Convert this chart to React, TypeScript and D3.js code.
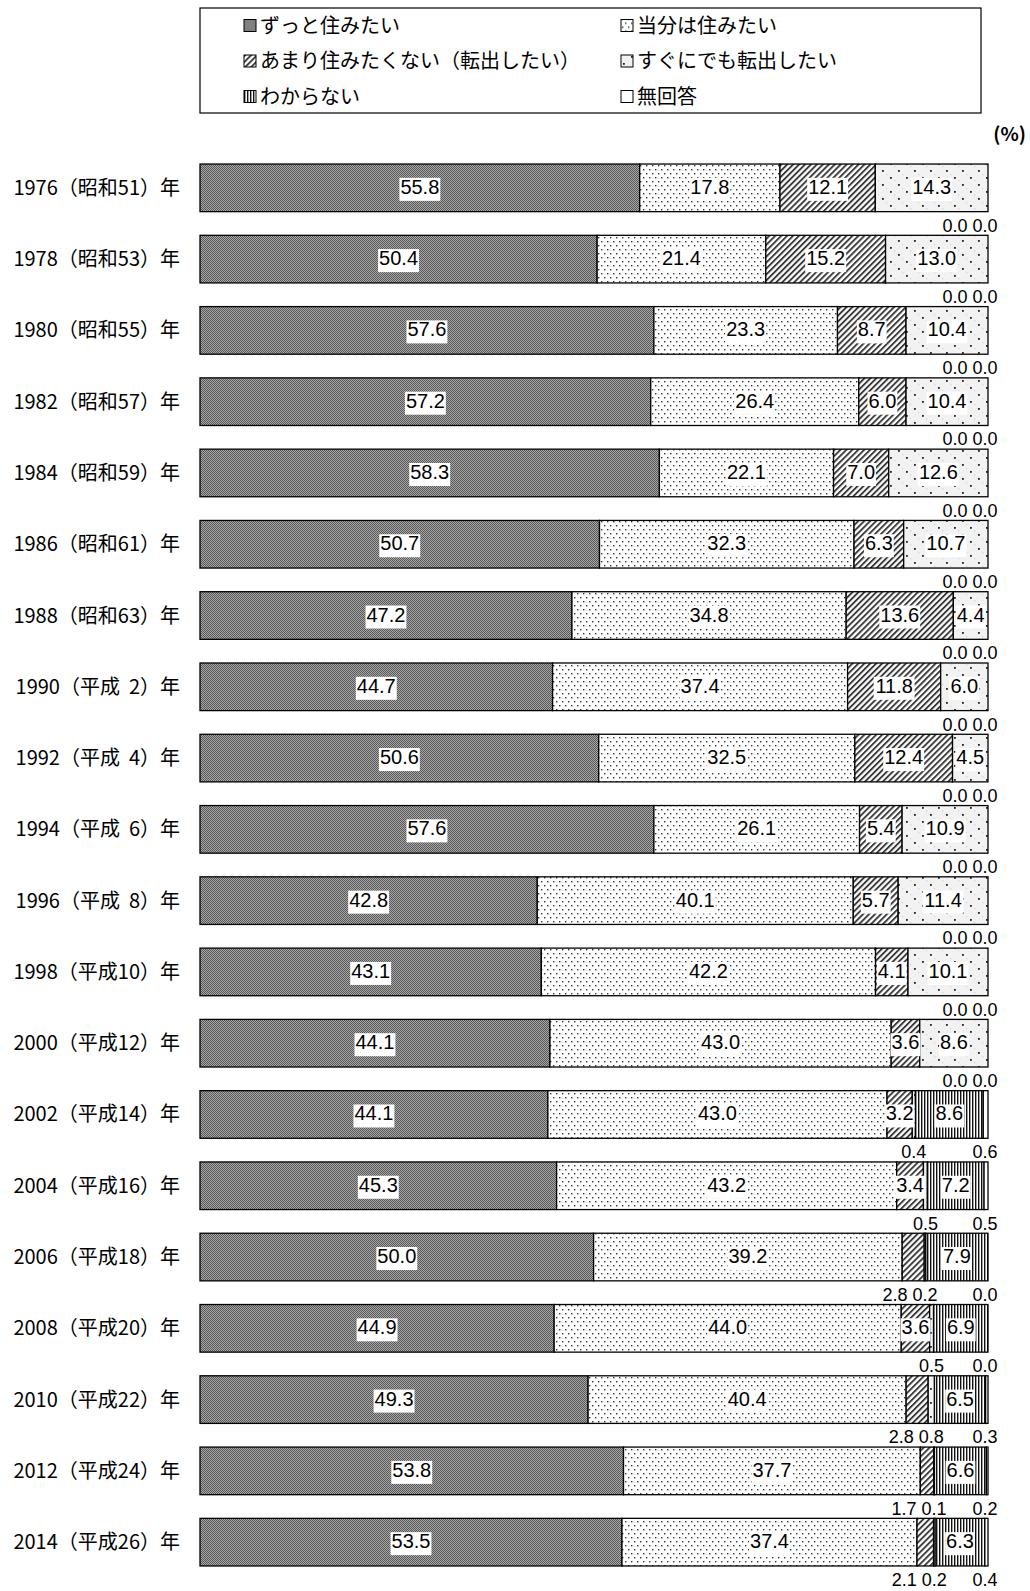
import React from "react";
import * as d3 from "d3";

// survey years (rows)
const years = [
  "1976（昭和51）年", "1978（昭和53）年", "1980（昭和55）年", "1982（昭和57）年",
  "1984（昭和59）年", "1986（昭和61）年", "1988（昭和63）年", "1990（平成  2）年",
  "1992（平成  4）年", "1994（平成  6）年", "1996（平成  8）年", "1998（平成10）年",
  "2000（平成12）年", "2002（平成14）年", "2004（平成16）年", "2006（平成18）年",
  "2008（平成20）年", "2010（平成22）年", "2012（平成24）年", "2014（平成26）年",
];

const seriesNames = [
  "ずっと住みたい", "当分は住みたい", "あまり住みたくない（転出したい）",
  "すぐにでも転出したい", "わからない", "無回答",
];

const zutto = [55.8, 50.4, 57.6, 57.2, 58.3, 50.7, 47.2, 44.7, 50.6, 57.6, 42.8, 43.1, 44.1, 44.1, 45.3, 50.0, 44.9, 49.3, 53.8, 53.5];
const toubun = [17.8, 21.4, 23.3, 26.4, 22.1, 32.3, 34.8, 37.4, 32.5, 26.1, 40.1, 42.2, 43.0, 43.0, 43.2, 39.2, 44.0, 40.4, 37.7, 37.4];
const amari = [12.1, 15.2, 8.7, 6.0, 7.0, 6.3, 13.6, 11.8, 12.4, 5.4, 5.7, 4.1, 3.6, 3.2, 3.4, 2.8, 3.6, 2.8, 1.7, 2.1];
const sugu = [14.3, 13.0, 10.4, 10.4, 12.6, 10.7, 4.4, 6.0, 4.5, 10.9, 11.4, 10.1, 8.6, 0.4, 0.5, 0.2, 0.5, 0.8, 0.1, 0.2];
const wakaranai = [0, 0, 0, 0, 0, 0, 0, 0, 0, 0, 0, 0, 0, 8.6, 7.2, 7.9, 6.9, 6.5, 6.6, 6.3];
const mukaitou = [0, 0, 0, 0, 0, 0, 0, 0, 0, 0, 0, 0, 0, 0.6, 0.5, 0.0, 0.0, 0.3, 0.2, 0.4];

const W = 1030;
const H = 1591;
const keys = ["s0", "s1", "s2", "s3", "s4", "s5"];
const fills = ["url(#p0)", "url(#p1)", "url(#p2)", "url(#p3)", "url(#p4)", "#fff"];
const numFont = "'Liberation Sans', Arial, sans-serif";
const jpFont = "'Noto Sans CJK JP', 'Noto Sans', sans-serif";

function textW(s: string, fs: number) {
  let w = 0;
  for (const c of s) w += c === "." ? 0.278 * fs : 0.556 * fs;
  return w;
}

export default function App() {
  const rows = years.map((year, i) => ({
    year,
    s0: zutto[i], s1: toubun[i], s2: amari[i],
    s3: sugu[i], s4: wakaranai[i], s5: mukaitou[i],
  }));
  const raw = [zutto, toubun, amari, sugu, wakaranai, mukaitou];

  const stacked = d3.stack<any>().keys(keys).offset(d3.stackOffsetExpand)(rows);

  const x = d3.scaleLinear().domain([0, 1]).range([200, 988]);
  const y = d3
    .scaleBand()
    .domain(years)
    .range([152.2, 1577.8])
    .paddingInner(0.332)
    .paddingOuter(0.166);
  const bh = y.bandwidth();

  // small values go under the bar, spread so they don't collide
  const below: { x: number; y: number; t: string }[] = [];
  years.forEach((yr, i) => {
    const items: { x: number; t: string }[] = [];
    stacked.forEach((layer, k) => {
      const v = raw[k][i];
      if (v < 3) {
        const d = layer[i];
        items.push({ x: x((d[0] + d[1]) / 2), t: v.toFixed(1) });
      }
    });
    let lim = 985;
    for (let j = items.length - 1; j >= 0; j--) {
      const px = Math.min(items[j].x, lim);
      items[j].x = px;
      lim = px - 30;
    }
    items.forEach((it) => below.push({ x: it.x, y: (y(yr) as number) + bh + 20, t: it.t }));
  });

  const legendPos = [
    [244, 25.5], [621, 25.5],
    [244, 61], [621, 61],
    [244, 96.5], [621, 96.5],
  ];

  return (
    <svg width={W} height={H} style={{ position: "absolute", left: 0, top: 0, background: "#fff" }}>
      <defs>
        <pattern id="p0" width={2} height={2} patternUnits="userSpaceOnUse">
          <rect width={2} height={2} fill="#a8a8a8" />
          <rect width={1} height={1} fill="#575757" />
          <rect x={1} y={1} width={1} height={1} fill="#575757" />
        </pattern>
        <pattern id="p1" width={6} height={8} patternUnits="userSpaceOnUse">
          <rect width={6} height={8} fill="#fff" />
          <rect x={1} y={1} width={1.4} height={1.4} fill="#333" />
          <rect x={4} y={5} width={1.4} height={1.4} fill="#333" />
        </pattern>
        <pattern id="p2" width={4.2} height={4.2} patternUnits="userSpaceOnUse" patternTransform="rotate(45)">
          <rect width={4.2} height={4.2} fill="#fff" />
          <rect width={1.9} height={4.2} fill="#3a3a3a" />
        </pattern>
        <pattern id="p3" width={16} height={14} patternUnits="userSpaceOnUse">
          <rect width={16} height={14} fill="#f2f2f2" />
          <rect x={2} y={2} width={1.8} height={1.8} fill="#222" />
          <rect x={10} y={9} width={1.8} height={1.8} fill="#222" />
          <rect x={6} y={6} width={1.2} height={1.2} fill="#d4d4d4" />
          <rect x={14} y={12} width={1.2} height={1.2} fill="#d4d4d4" />
        </pattern>
        <pattern id="p4" width={3} height={3} patternUnits="userSpaceOnUse">
          <rect width={3} height={3} fill="#fff" />
          <rect width={1.4} height={3} fill="#111" />
        </pattern>
      </defs>

      {/* legend */}
      <rect x={200} y={8} width={781} height={105} fill="#fff" stroke="#000" strokeWidth={1.2} />
      {seriesNames.map((name, k) => (
        <g key={name} transform={`translate(${legendPos[k][0]},${legendPos[k][1]})`}>
          <rect x={0} y={-6} width={12} height={12} fill={fills[k]} stroke="#000" strokeWidth={1} />
          <text x={16} y={7} fontFamily={jpFont} fontSize={20} fill="#000">{name}</text>
        </g>
      ))}

      <text x={1026} y={141} textAnchor="end" fontFamily={jpFont} fontSize={19} fontWeight="bold" fill="#000">(%)</text>

      {/* row labels */}
      {years.map((yr) => (
        <text key={yr} x={180} y={(y(yr) as number) + bh / 2 + 7} textAnchor="end" fontFamily={jpFont} fontSize={20} fill="#000" style={{ whiteSpace: "pre" }}>
          {yr}
        </text>
      ))}

      {/* bars */}
      {stacked.map((layer, k) => (
        <g key={keys[k]}>
          {layer.map((d, i) => (
            <rect
              key={i}
              x={x(d[0])}
              y={y(years[i]) as number}
              width={Math.max(0, x(d[1]) - x(d[0]))}
              height={bh}
              fill={fills[k]}
              stroke="#000"
              strokeWidth={1.3}
            />
          ))}
        </g>
      ))}

      {/* labels inside */}
      {stacked.map((layer, k) =>
        layer.map((d, i) => {
          const v = raw[k][i];
          if (v < 3) return null;
          const t = v.toFixed(1);
          const cx = x((d[0] + d[1]) / 2);
          const cy = (y(years[i]) as number) + bh / 2;
          const w = textW(t, 20);
          return (
            <g key={`l${k}-${i}`}>
              <rect x={cx - w / 2 - 1} y={cy - 10} width={w + 2} height={23} fill="#fff" />
              <text x={cx} y={cy + 6} textAnchor="middle" fontFamily={numFont} fontSize={20} fill="#000">{t}</text>
            </g>
          );
        })
      )}

      {/* labels below */}
      {below.map((b, i) => (
        <text key={`b${i}`} x={b.x} y={b.y} textAnchor="middle" fontFamily={numFont} fontSize={18} fill="#000">{b.t}</text>
      ))}
    </svg>
  );
}
